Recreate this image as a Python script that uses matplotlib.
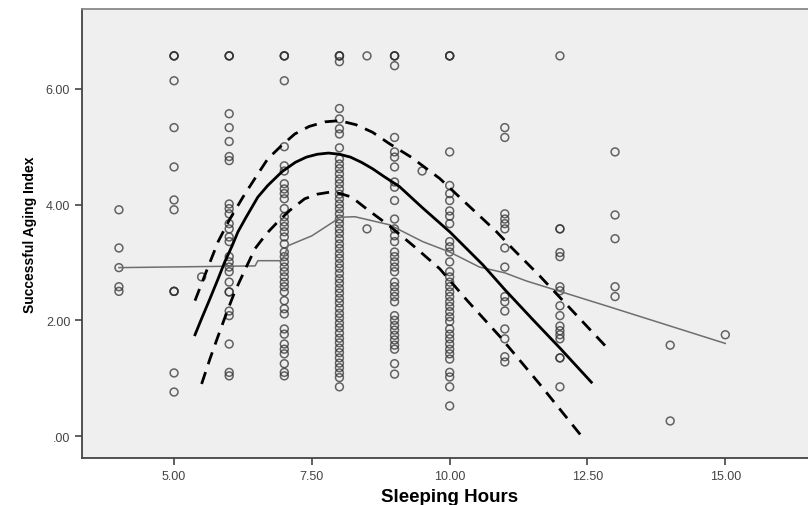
import matplotlib
matplotlib.use("Agg")
import matplotlib.pyplot as plt

# scatter columns: sleeping hours -> aging index values
x4 = [3.91, 3.25, 2.91, 2.58, 2.50]
x5 = [6.57, 6.57, 6.57, 6.14, 5.33, 4.65, 4.08, 3.91, 2.50, 2.50, 2.50, 1.09, 0.76]
x55 = [2.75]
x6 = [6.57, 6.57, 6.57, 5.57, 5.33, 5.09, 4.83, 4.76, 4.01, 3.93, 3.84, 3.67,
      3.58, 3.44, 3.36, 3.10, 3.01, 2.92, 2.84, 2.66, 2.49, 2.49, 2.16, 2.08,
      1.59, 1.10, 1.04]
x7 = [6.57, 6.57, 6.57, 6.14, 5.00, 4.67, 4.58, 4.36, 4.27, 4.19, 4.10, 3.93,
      3.79, 3.70, 3.62, 3.53, 3.44, 3.32, 3.18, 3.10, 3.01, 2.92, 2.84, 2.75,
      2.66, 2.58, 2.49, 2.34, 2.20, 2.11, 1.85, 1.76, 1.59, 1.50, 1.42, 1.25,
      1.10, 1.04]
x8 = [6.57, 6.57, 6.57, 6.47, 5.66, 5.48, 5.31, 5.22, 4.98, 4.79, 4.70, 4.62,
      4.53, 4.44, 4.36, 4.27, 4.18, 4.10, 4.01, 3.93, 3.84, 3.75, 3.67, 3.58,
      3.50, 3.41, 3.32, 3.24, 3.15, 3.07, 2.98, 2.90, 2.81, 2.72, 2.64, 2.55,
      2.47, 2.38, 2.30, 2.21, 2.12, 2.04, 1.95, 1.87, 1.78, 1.69, 1.61, 1.52,
      1.44, 1.35, 1.26, 1.18, 1.09, 1.01, 0.85]
x85 = [6.57, 3.58]
x9 = [6.57, 6.57, 6.57, 6.40, 5.16, 4.91, 4.82, 4.65, 4.39, 4.30, 4.07, 3.75,
      3.58, 3.46, 3.36, 3.18, 3.10, 3.01, 2.92, 2.84, 2.66, 2.58, 2.49, 2.41,
      2.32, 2.08, 2.00, 1.91, 1.83, 1.74, 1.66, 1.57, 1.50, 1.25, 1.07]
x95 = [4.58]
x10 = [6.57, 6.57, 6.57, 4.91, 4.33, 4.19, 4.07, 3.89, 3.80, 3.67, 3.36, 3.27,
       3.18, 3.01, 2.84, 2.75, 2.66, 2.58, 2.49, 2.41, 2.32, 2.24, 2.15, 2.06,
       1.98, 1.85, 1.76, 1.68, 1.59, 1.50, 1.42, 1.33, 1.10, 1.02, 0.85, 0.52]
x11 = [5.33, 5.16, 3.84, 3.75, 3.67, 3.58, 3.25, 2.92, 2.41, 2.32, 2.16, 1.85,
       1.68, 1.37, 1.28]
x12 = [6.57, 3.58, 3.58, 3.17, 3.10, 2.58, 2.51, 2.25, 2.08, 1.90, 1.82, 1.75,
       1.68, 1.35, 1.35, 0.85]
x13 = [4.91, 3.82, 3.41, 2.58, 2.41]
x14 = [1.57, 0.26]
x15 = [1.75]

columns = {4: x4, 5: x5, 5.5: x55, 6: x6, 7: x7, 8: x8, 8.5: x85, 9: x9,
           9.5: x95, 10: x10, 11: x11, 12: x12, 13: x13, 14: x14, 15: x15}

# fitted curve and its interval
fit_x = [5.38, 5.50, 5.65, 5.80, 5.92, 6.05, 6.16, 6.30, 6.52, 6.70, 6.96,
         7.20, 7.40, 7.60, 7.80, 8.00, 8.20, 8.40, 8.60, 8.80, 9.09, 9.50,
         10.0, 10.6, 11.0, 11.5, 12.0, 12.57]
fit_y = [1.75, 2.03, 2.37, 2.72, 3.01, 3.28, 3.53, 3.77, 4.13, 4.33, 4.57,
         4.73, 4.82, 4.87, 4.89, 4.87, 4.82, 4.73, 4.62, 4.49, 4.31, 3.95,
         3.53, 2.96, 2.53, 2.02, 1.52, 0.93]
up_x = [5.38, 5.60, 5.80, 6.00, 6.25, 6.50, 6.70, 6.95, 7.19, 7.45, 7.74,
        8.00, 8.30, 8.60, 8.91, 9.30, 9.82, 10.30, 10.85, 11.14, 11.63, 12.86]
up_y = [2.34, 2.88, 3.36, 3.73, 4.13, 4.50, 4.79, 5.02, 5.22, 5.35, 5.43,
        5.45, 5.38, 5.25, 5.05, 4.82, 4.45, 4.02, 3.53, 3.24, 2.77, 1.52]
lo_x = [5.50, 5.65, 5.80, 5.95, 6.10, 6.30, 6.47, 6.68, 6.88, 7.10, 7.37,
        7.60, 7.86, 8.05, 8.22, 8.50, 8.91, 9.35, 9.82, 10.31, 10.91, 11.63,
        12.39]
lo_y = [0.90, 1.33, 1.73, 2.12, 2.49, 2.90, 3.24, 3.50, 3.70, 3.90, 4.10,
        4.18, 4.22, 4.18, 4.13, 3.92, 3.63, 3.28, 2.89, 2.35, 1.72, 0.90,
        0.00]
loess_x = [4.0, 6.47, 6.52, 6.96, 7.07, 7.50, 7.92, 8.00, 8.28, 8.91, 9.51,
           10.0, 10.54, 11.0, 11.39, 12.84, 15.0]
loess_y = [2.91, 2.94, 3.03, 3.03, 3.29, 3.46, 3.72, 3.78, 3.79, 3.65, 3.36,
           3.18, 2.92, 2.82, 2.68, 2.25, 1.60]

xticks = [5.0, 7.5, 10.0, 12.5, 15.0]
xtick_labels = ["5.00", "7.50", "10.00", "12.50", "15.00"]
yticks = [0, 2, 4, 6]
ytick_labels = [".00", "2.00", "4.00", "6.00"]

plt.rcParams['font.family'] = ['Liberation Sans', 'DejaVu Sans']

fig = plt.figure(figsize=(8.08, 5.06), dpi=100)
ax = fig.add_axes([82 / 808, 1 - 459 / 506, 1 - 82 / 808, (459 - 10) / 506])
ax.set_facecolor('#efefef')

for xv, vals in columns.items():
    ax.scatter([xv] * len(vals), vals, s=32, facecolors='none',
               edgecolors='#333333', linewidths=1.1, alpha=0.75, zorder=3)

ax.plot(loess_x, loess_y, color='#6e6e6e', lw=1.1, zorder=4)
ax.plot(fit_x, fit_y, color='black', lw=2.0, zorder=5)
ax.plot(up_x, up_y, color='black', lw=2.0, dashes=(4.5, 3), zorder=5)
ax.plot(lo_x, lo_y, color='black', lw=2.0, dashes=(4.5, 3), zorder=5)

ax.set_xlim(3.33, 16.5)
ax.set_ylim(-0.38, 7.38)
ax.set_xticks(xticks)
ax.set_xticklabels(xtick_labels)
ax.set_yticks(yticks)
ax.set_yticklabels(ytick_labels)
ax.tick_params(axis='both', direction='out', length=5, width=1.2,
               color='#444444', labelsize=9, labelcolor='#444444')

for side in ['left', 'bottom']:
    ax.spines[side].set_color('#444444')
    ax.spines[side].set_linewidth(1.3)
ax.spines['top'].set_color('#888888')
ax.spines['top'].set_linewidth(1.3)
ax.spines['right'].set_visible(False)

fig.text(450 / 808, 3.5 / 506, "Sleeping Hours", fontsize=13.5,
         fontweight='bold', ha='center', va='baseline')
ax.set_ylabel("Successful Aging Index", fontsize=10, fontweight='bold',
              labelpad=6)

fig.savefig("out.png", dpi=100)
